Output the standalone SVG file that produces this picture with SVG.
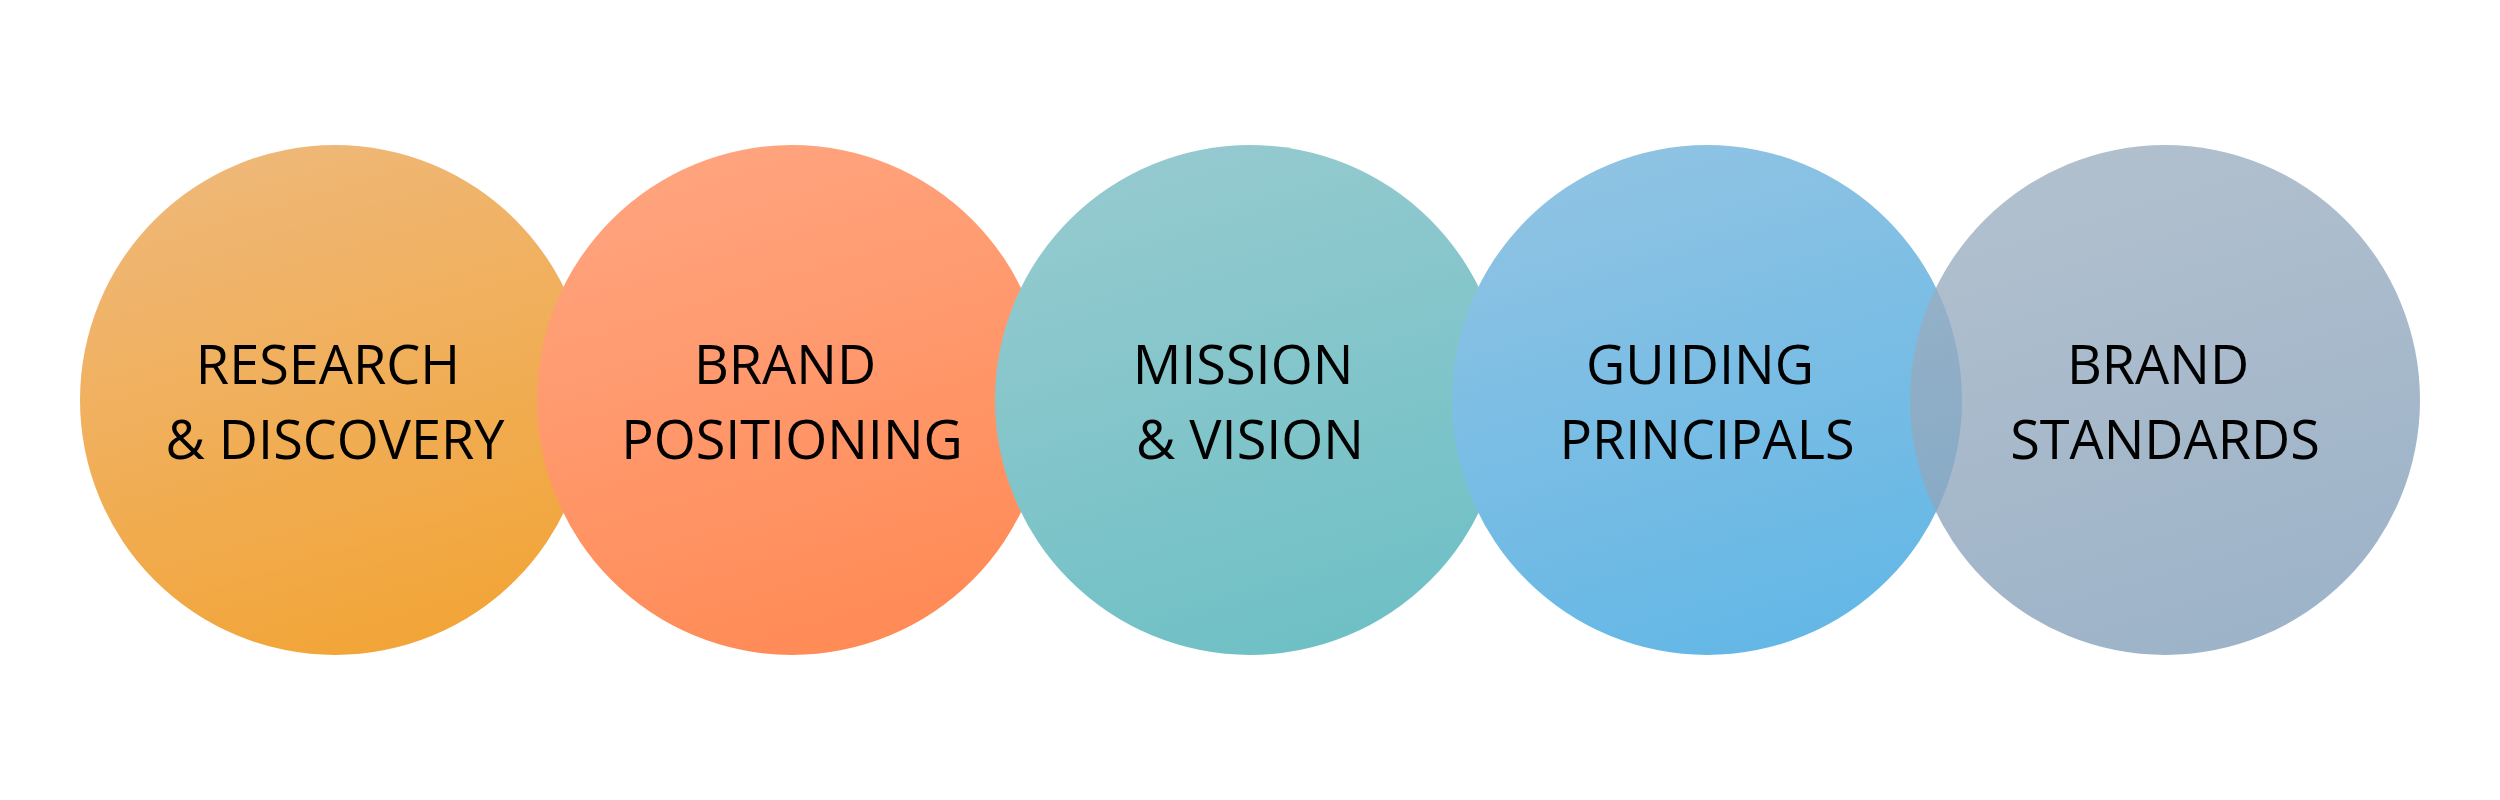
<svg xmlns="http://www.w3.org/2000/svg" width="2500" height="800" viewBox="0 0 2500 800">
  <style>
    .lbl { font-family: "Open Sans", "Liberation Sans", sans-serif; font-size: 54px; fill: #000000; text-anchor: middle; }
  </style>
  <defs>
    <linearGradient id="g1" x1="0.35" y1="0" x2="0.65" y2="1">
      <stop offset="0" stop-color="#EFB878"/>
      <stop offset="1" stop-color="#F2A436"/>
    </linearGradient>
    <linearGradient id="g2" x1="0.35" y1="0" x2="0.65" y2="1">
      <stop offset="0" stop-color="#FFA47F"/>
      <stop offset="1" stop-color="#FF8A55"/>
    </linearGradient>
    <linearGradient id="g3" x1="0.35" y1="0" x2="0.65" y2="1">
      <stop offset="0" stop-color="#95CACF"/>
      <stop offset="1" stop-color="#6EC0C5"/>
    </linearGradient>
    <linearGradient id="g4" x1="0.35" y1="0" x2="0.65" y2="1">
      <stop offset="0" stop-color="#8FC3E3"/>
      <stop offset="1" stop-color="#63B7E6"/>
    </linearGradient>
    <linearGradient id="g5" x1="0.35" y1="0" x2="0.65" y2="1">
      <stop offset="0" stop-color="#9EB0C1"/>
      <stop offset="1" stop-color="#84A0BB"/>
    </linearGradient>
  </defs>
  <rect width="2500" height="800" fill="#FFFFFF"/>
  <g id="connectors"></g>
  <g id="node-research">
    <circle cx="335" cy="400" r="255" fill="url(#g1)"/>
    <text class="lbl" x="328" y="384">RESEARCH</text>
    <text class="lbl" x="335" y="459">&amp; DISCOVERY</text>
  </g>
  <g id="node-positioning">
    <circle cx="792" cy="400" r="255" fill="url(#g2)"/>
    <text class="lbl" x="785" y="384">BRAND</text>
    <text class="lbl" x="792" y="459">POSITIONING</text>
  </g>
  <g id="node-mission">
    <circle cx="1250" cy="400" r="255" fill="url(#g3)"/>
    <text class="lbl" x="1243" y="384">MISSION</text>
    <text class="lbl" x="1250" y="459">&amp; VISION</text>
  </g>
  <g id="node-guiding">
    <circle cx="1707" cy="400" r="255" fill="url(#g4)"/>
    <text class="lbl" x="1700" y="384">GUIDING</text>
    <text class="lbl" x="1707" y="459">PRINCIPALS</text>
  </g>
  <g id="node-standards">
    <circle cx="2165" cy="400" r="255" fill="url(#g5)" fill-opacity="0.8"/>
    <text class="lbl" x="2158" y="384">BRAND</text>
    <text class="lbl" x="2165" y="459">STANDARDS</text>
  </g>
</svg>
